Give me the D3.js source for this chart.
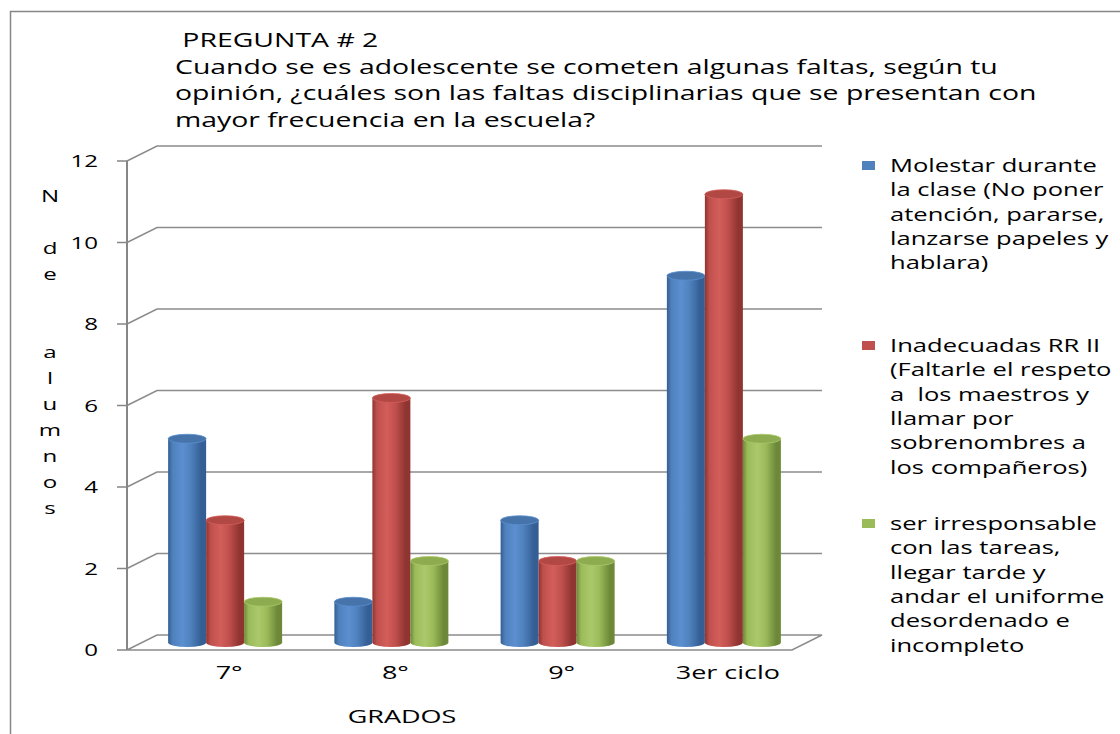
<!DOCTYPE html>
<html lang="es">
<head>
<meta charset="UTF-8">
<script src="https://d3js.org/d3.v7.min.js"></script>
<style>
  body { margin: 0; background: #fff; }
  text { font-family: "Open Sans", "Noto Sans", sans-serif; fill: #000; white-space: pre; }
  .grid { fill: none; stroke: #8c8c8c; stroke-width: 1.5px; }
</style>
</head>
<body>
<script>
const grados = ["7°", "8°", "9°", "3er ciclo"];
const series = ["molestar", "inadecuadas", "irresponsable"];
const molestar = [5, 1, 3, 9];
const inadecuadas = [3, 6, 2, 11];
const irresponsable = [1, 2, 2, 5];
const yTicks = [0, 2, 4, 6, 8, 10, 12];

const titleLines = [
  " PREGUNTA # 2",
  "Cuando se es adolescente se cometen algunas faltas, según tu",
  "opinión, ¿cuáles son las faltas disciplinarias que se presentan con",
  "mayor frecuencia en la escuela?"
];
const legendLines = [
  ["Molestar durante", "la clase (No poner", "atención, pararse,", "lanzarse papeles y", "hablara)"],
  ["Inadecuadas RR II", "(Faltarle el respeto", "a  los maestros y", "llamar por", "sobrenombres a", "los compañeros)"],
  ["ser irresponsable", "con las tareas,", "llegar tarde y", "andar el uniforme", "desordenado e", "incompleto"]
];
const yTitle = ["N", "", "d", "e", "", "", "a", "l", "u", "m", "n", "o", "s"];

const values = { molestar, inadecuadas, irresponsable };
const colors = {
  molestar:      { edge: "#345e94", light: "#5b8fd0", mid: "#4f81bd", top: "#4674aa", key: "#4f81bd" },
  inadecuadas:   { edge: "#8f3431", light: "#d35e5a", mid: "#c0504d", top: "#b24844", key: "#c0504d" },
  irresponsable: { edge: "#6c8838", light: "#abc96b", mid: "#9bbb59", top: "#8dab4f", key: "#9bbb59" }
};

const W = 1120, H = 734;
const sx = 1.42;           // horizontal stretch of the original's text
const depth = { dx: 30, dy: -15 };

const svg = d3.select("body").append("svg")
  .attr("width", W).attr("height", H);

// frame
svg.append("rect")
  .attr("x", 10.5).attr("y", 11.5).attr("width", 1300).attr("height", 900)
  .attr("fill", "none").attr("stroke", "#868686").attr("stroke-width", 1.5);

const y = d3.scaleLinear().domain([0, 12]).range([650, 161]);
const x = d3.scaleBand().domain(grados).range([127, 792]);
const groupW = 114;
const xs = d3.scaleBand().domain(series).range([0, groupW]);

function stretchedText(g, tx, ty, str, size, anchor) {
  return g.append("text")
    .attr("transform", `translate(${tx},${ty}) scale(${sx},1)`)
    .attr("font-size", size)
    .attr("text-anchor", anchor || "start")
    .attr("xml:space", "preserve")
    .text(str);
}

// back wall gridlines + side wall diagonals
const x0 = x.range()[0], x1 = x.range()[1];
const grid = svg.append("g");
yTicks.forEach(v => {
  const yf = y(v), yb = y(v) + depth.dy;
  if (v > 0) {
    grid.append("path").attr("class", "grid")
      .attr("d", `M${x0},${yf}L${x0 + depth.dx},${yb}H${x1 + depth.dx}`);
  }
});
// floor
grid.append("path").attr("class", "grid")
  .attr("d", `M${x0},${y(0)}L${x0 + depth.dx},${y(0) + depth.dy}H${x1 + depth.dx}L${x1},${y(0)}Z`);

// vertical axis + ticks
const axis = svg.append("g");
axis.append("line")
  .attr("x1", x0).attr("x2", x0).attr("y1", y(12)).attr("y2", y(0))
  .attr("stroke", "#868686").attr("stroke-width", 2);
yTicks.forEach(v => {
  axis.append("line")
    .attr("x1", x0 - 10).attr("x2", x0).attr("y1", y(v)).attr("y2", y(v))
    .attr("stroke", "#868686").attr("stroke-width", 1.5);
  stretchedText(axis, 98, y(v) + 6, String(v), 17, "end");
});

// gradients
const defs = svg.append("defs");
series.forEach(s => {
  const c = colors[s];
  const gr = defs.append("linearGradient").attr("id", "g-" + s)
    .attr("x1", "0%").attr("x2", "100%").attr("y1", "0%").attr("y2", "0%");
  [[0, c.edge], [0.12, c.mid], [0.38, c.light], [0.6, c.mid], [0.88, c.edge], [1, c.edge]]
    .forEach(([o, col]) => gr.append("stop").attr("offset", o).attr("stop-color", col));
});

// cylinders
const bars = svg.append("g");
const ry = 4.5;
grados.forEach((g, i) => {
  const gx = x(g) + (x.bandwidth() - groupW) / 2 + depth.dx / 2;
  series.forEach(s => {
    const v = values[s][i];
    const bx = gx + xs(s), w = xs.bandwidth(), rx = w / 2;
    const yb = y(0) + depth.dy / 2, yt = y(v) + depth.dy / 2;
    const c = colors[s];
    bars.append("path")
      .attr("d", `M${bx},${yt}V${yb}A${rx},${ry} 0 0 0 ${bx + w},${yb}V${yt}Z`)
      .attr("fill", `url(#g-${s})`);
    bars.append("ellipse")
      .attr("cx", bx + rx).attr("cy", yt).attr("rx", rx).attr("ry", ry)
      .attr("fill", c.top).attr("stroke", c.light).attr("stroke-width", 0.8);
  });
});

// category labels
const cats = svg.append("g");
grados.forEach(g => {
  stretchedText(cats, x(g) + x.bandwidth() / 2 + 19, 679, g, 19, "middle");
});
stretchedText(svg, 402, 723, "GRADOS", 19, "middle");

// y title (stacked letters)
yTitle.forEach((ch, i) => {
  if (ch) stretchedText(svg, 50, 202 + i * 26, ch, 17, "middle");
});

// title
titleLines.forEach((line, i) => {
  stretchedText(svg, 175, 47 + i * 26.5, line, 20);
});

// legend
const legendTop = [172, 352, 530];
series.forEach((s, k) => {
  svg.append("rect")
    .attr("x", 862).attr("y", legendTop[k] - 11).attr("width", 13).attr("height", 9)
    .attr("fill", colors[s].key);
  legendLines[k].forEach((line, j) => {
    stretchedText(svg, 890, legendTop[k] + j * 24.3, line, 18);
  });
});
</script>
</body>
</html>
